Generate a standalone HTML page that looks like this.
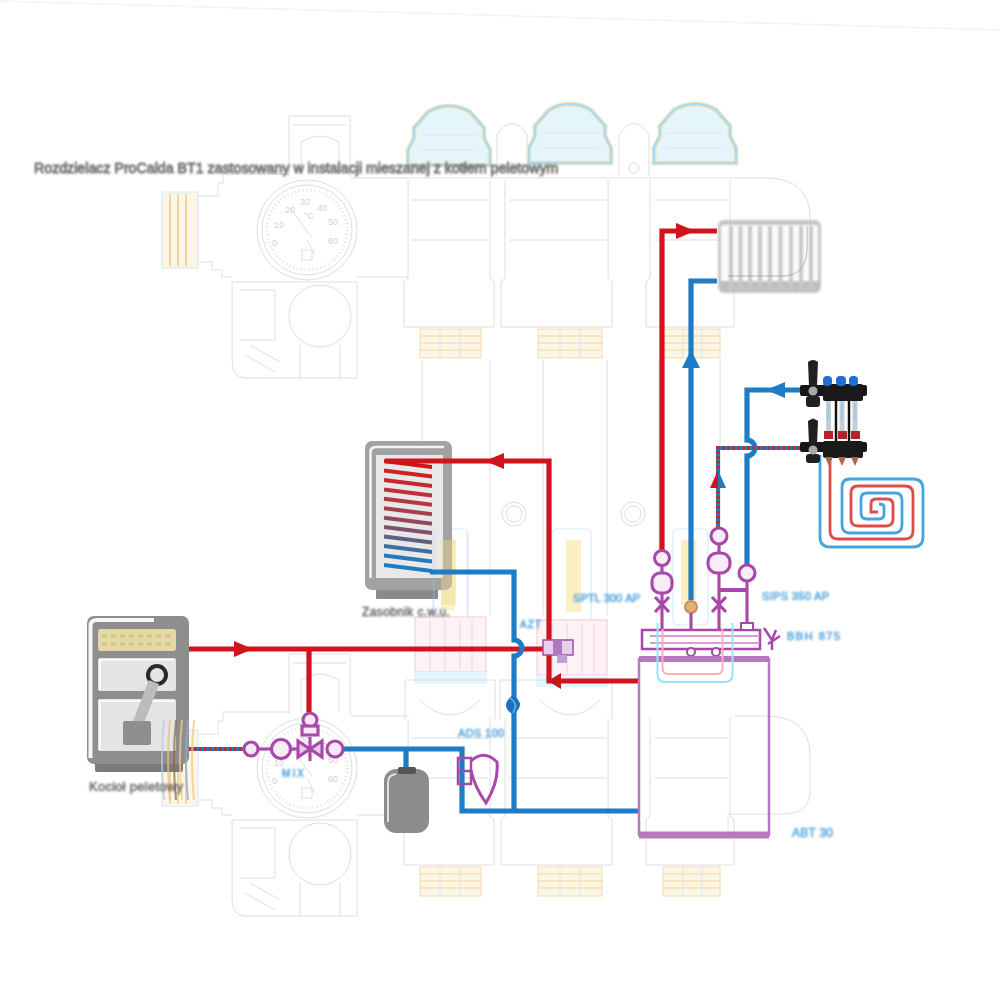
<!DOCTYPE html>
<html><head><meta charset="utf-8">
<style>
html,body{margin:0;padding:0;background:#fff;}
body{width:1000px;height:1000px;overflow:hidden;position:relative;}
svg{position:absolute;left:0;top:0;}
text{font-family:"Liberation Sans",sans-serif;}
</style></head><body>
<svg width="1000" height="1000" viewBox="0 0 1000 1000">
<defs>
<filter id="bl2" x="-10%" y="-10%" width="120%" height="120%"><feGaussianBlur stdDeviation="0.9"/></filter>
<filter id="bl" x="-5%" y="-50%" width="110%" height="200%"><feGaussianBlur stdDeviation="0.9"/></filter>
<g id="ghc">
 <g fill="none" stroke="#dedede" stroke-width="1">
  <path d="M289,116 H350 V176 M289,116 V176 M293,125 H346 M301,174 V142 Q320,130 339,142 V174"/>
  <path d="M198,196 H218 V183 H223 V174 H289 M350,178 H408 M198,262 H212 V270 H222 V277 H232 M357,277 H408"/>
  <circle cx="307" cy="230" r="50"/>
  <circle cx="307" cy="230" r="45"/>
  <path d="M290,208 L312,238 M307,240 L315,255"/>
  <rect x="302" y="250" width="10" height="10"/>
  <g stroke="none" fill="#d2d2d2" font-size="9" font-family="Liberation Sans, sans-serif">
   <text x="272" y="246">0</text><text x="274" y="228">10</text><text x="285" y="213">20</text><text x="300" y="205">30</text><text x="317" y="211">40</text><text x="328" y="225">50</text><text x="328" y="244">60</text><text x="304" y="219">°C</text>
  </g>
  <circle cx="307" cy="230" r="40" stroke-dasharray="1 3" stroke="#e2e2e2" stroke-width="3"/>
  <path d="M232,282 H357 V378 H245 Q232,378 232,360 Z"/>
  <circle cx="320" cy="316" r="31"/>
  <path d="M245,355 L275,372 M250,345 L280,362 M300,345 V378 M340,345 V378"/>
  <path d="M240,290 H275 V340 H240"/>
  <path d="M408,180 V278 L404,282 V327 H494 V282 L490,278 V180"/>
  <path d="M505,180 V278 L501,282 V327 H612 V282 L608,278 V180"/>
  <path d="M650,180 V278 L646,282 V327 H734 V282 L730,278 V180"/>
  <path d="M412,200 H488 M412,240 H488 M509,200 H606 M509,240 H606 M654,200 H728 M654,240 H728"/>
  <path d="M735,178 H770 Q808,180 810,215 V255 Q808,276 785,276 H728 V292"/>
 </g>
 <g fill="#fcf6e6" stroke="#f4dcae" stroke-width="1">
  <rect x="420" y="329" width="61" height="29"/>
  <rect x="538" y="329" width="64" height="29"/>
  <rect x="663" y="329" width="57" height="29"/>
  <path d="M420,336 H481 M420,343 H481 M420,350 H481 M538,336 H602 M538,343 H602 M538,350 H602 M663,336 H720 M663,343 H720 M663,350 H720" stroke="#f4d49a"/>
  <path d="M440,329 V358 M460,329 V358 M560,329 V358 M580,329 V358 M683,329 V358 M702,329 V358" stroke="#d4e6f6"/>
  <rect x="162" y="192" width="36" height="76" fill="#fcf6e6" stroke="#d6e8f8"/>
  <path d="M170,194 V266 M178,194 V266 M186,194 V266" stroke="#f4d49a" stroke-width="2"/>
 </g>
</g>
<g id="ghtop">
 <g fill="none" stroke="#dedede" stroke-width="1">
  <path d="M422,360 V528 M490,360 V615 M543,360 V615 M607,360 V615 M659,360 V615 M720,360 V528"/>
  <circle cx="514" cy="514" r="8"/><circle cx="633" cy="514" r="8"/>
  <circle cx="514" cy="514" r="12"/><circle cx="633" cy="514" r="12"/>
  <path d="M497,176 V135 Q512,112 527,135 V176 M619,176 V135 Q634,112 649,135 V176"/>
  <circle cx="512" cy="168" r="5"/><circle cx="634" cy="168" r="5"/>
  <path d="M400,178 H735" stroke="#e2e2e2"/>
 </g>
 <g fill="none" stroke="#d6ecf8" stroke-width="1.2">
  <rect x="433" y="529" width="35" height="96" rx="5"/>
  <rect x="552" y="529" width="39" height="96" rx="5"/>
  <rect x="673" y="529" width="35" height="96" rx="5"/>
 </g>
 <g fill="#fbf0c4" stroke="none">
  <rect x="441" y="540" width="15" height="65"/>
  <rect x="566" y="540" width="15" height="72"/>
  <rect x="681" y="540" width="15" height="65"/>
 </g>
 <g id="cap">
  <path d="M408,165 V150 L414,138 V128 L428,112 Q438,106 449,106 Q460,106 470,112 L484,128 V138 L490,150 V165 Z" fill="#e4f5fc" stroke="#f8e4c2" stroke-width="5"/>
  <path d="M408,165 V150 L414,138 V128 L428,112 Q438,106 449,106 Q460,106 470,112 L484,128 V138 L490,150 V165 Z" fill="none" stroke="#a4dcf6" stroke-width="2.4"/>
  <path d="M420,135 H478 M420,150 H478" stroke="#f6dde6" stroke-width="1" fill="none"/>
 </g>
 <use href="#cap" transform="translate(121,-2)"/>
 <use href="#cap" transform="translate(246,-2)"/>
</g>
<g id="ghbot">
 <g fill="#fdf2f6" stroke="#f6c6d2" stroke-width="1">
  <rect x="415" y="617" width="71" height="55"/>
  <rect x="537" y="620" width="70" height="55"/>
 </g>
 <g fill="#e4f6fc" stroke="none">
  <rect x="414" y="672" width="73" height="12"/>
  <rect x="536" y="675" width="72" height="12"/>
 </g>
 <g fill="none" stroke="#f6d0da" stroke-width="1">
  <path d="M430,620 V670 M445,620 V670 M460,620 V670 M472,620 V670 M552,623 V673 M567,623 V673 M582,623 V673 M594,623 V673"/>
 </g>
 <g fill="none" stroke="#dedede" stroke-width="1">
  <path d="M405,680 H495 V720 M405,680 V720 M500,680 H612 V720 M500,680 V720"/>
  <path d="M420,700 Q450,730 480,700 M540,700 Q570,730 600,700"/>
 </g>
</g>
</defs>

<use href="#ghc"/>
<use href="#ghtop"/>
<use href="#ghc" transform="translate(0,538)"/>
<use href="#ghbot"/>

<!-- title -->
<path d="M0,1 L1000,30" stroke="#f3f3f3" stroke-width="1.5"/>
<text x="34" y="173" font-size="14.2" fill="#6a6a6a" stroke="#6a6a6a" stroke-width="0.8" filter="url(#bl)">Rozdzielacz ProCalda BT1 zastosowany w instalacji mieszanej z kotłem peletowym</text>

<!-- PIPES -->
<g fill="none" stroke-linejoin="miter">
 <path d="M189,649 H543" stroke="#d0141c" stroke-width="5.2"/>
 <path d="M309,649 V712" stroke="#d0141c" stroke-width="5.2"/>
 <path d="M662,550 V231 H717" stroke="#d0141c" stroke-width="5.2"/>
 <path d="M717,281 H691 V600" stroke="#1e7cc4" stroke-width="5.2"/>
 <path d="M342,749 H462 V811 H638" stroke="#1e7cc4" stroke-width="5.2"/>
 <path d="M406,749 V770" stroke="#1e7cc4" stroke-width="5.2"/>
 <path d="M800,390 H747 V440 a8,8 0 0 1 0,16 V565" stroke="#1e7cc4" stroke-width="5.2"/>
 <path d="M800,448 H718 V542" stroke="#1e7cc4" stroke-width="4"/>
 <path d="M800,448 H718 V542" stroke="#c0282c" stroke-width="4" stroke-dasharray="2.5 2.5"/>
 <path d="M189,749 H244" stroke="#1e7cc4" stroke-width="4"/>
 <path d="M189,749 H244" stroke="#c0282c" stroke-width="4" stroke-dasharray="2.5 2.5"/>
 <!-- underfloor spiral -->
 <path d="M820,455 V537 Q820,547 830,547 H913 Q923,547 923,537 V489 Q923,479 913,479 H850 Q842,479 842,487 V525 Q842,533 850,533 H894 Q902,533 902,525 V500 Q902,493 895,493 H867 Q861,493 861,499 V513 Q861,519 867,519 H879 Q884,519 884,514 V507 Q884,504 879,504" stroke="#48a4dc" stroke-width="2.8"/>
 <path d="M830,455 V531 Q830,539 838,539 H905 Q913,539 913,531 V494 Q913,486 905,486 H858 Q851,486 851,493 V519 Q851,526 858,526 H886 Q893,526 893,519 V505 Q893,499 887,499 H876 Q871,499 871,504 V512 H878" stroke="#de4c4e" stroke-width="2.8"/>
</g>
<!-- arrows -->
<path d="M234,641 L253,649 L234,657z" fill="#d0141c"/>
<path d="M676,223 L695,231 L676,239z" fill="#d0141c"/>
<path d="M682,368 L691,350 L700,368z" fill="#1e7cc4"/>
<path d="M785,382 L766,390 L785,398z" fill="#1e7cc4"/>
<path d="M710,488 L718,470 L718,488z" fill="#d0141c"/>
<path d="M718,488 L718,470 L726,488z" fill="#1e7cc4"/>

<!-- BOILER -->
<g>
 <rect x="95" y="762" width="88" height="10" rx="2" fill="#7a7a7a"/>
 <rect x="87" y="616" width="102" height="148" rx="7" fill="#8e8e8e"/>
 <path d="M90.5,758 V626 Q90.5,620 97,620 H154" stroke="#f6f6f6" stroke-width="4" fill="none"/>
 <rect x="98" y="629" width="78" height="22" rx="3" fill="#e4d9a4"/>
 <path d="M102,636 H172 M102,644 H172" stroke="#d2c488" stroke-width="3" stroke-dasharray="5 4"/>
 <rect x="98" y="658" width="78" height="33" rx="2" fill="#e4e4e4"/>
 <rect x="98" y="699" width="78" height="52" rx="2" fill="#e4e4e4"/>
 <path d="M100,690 V660 H174" stroke="#f8f8f8" stroke-width="2" fill="none"/>
 <path d="M100,750 V701 H174" stroke="#f8f8f8" stroke-width="2" fill="none"/>
 <circle cx="157" cy="675" r="9" fill="none" stroke="#2a2a2a" stroke-width="4"/>
 <path d="M154,682 L137,726" stroke="#bcbcbc" stroke-width="11"/>
 <rect x="123" y="721" width="28" height="24" rx="2" fill="#8e8e8e"/>
 <g fill="none" stroke-width="2" opacity=".75">
  <path d="M164,720 Q160,760 164,800" stroke="#b8c8ec"/>
  <path d="M170,720 Q166,760 170,800" stroke="#e8c080"/>
  <path d="M176,720 Q172,760 176,800" stroke="#8a6a48"/>
  <path d="M182,720 Q178,760 182,800" stroke="#f0d090"/>
  <path d="M188,720 Q184,760 188,800" stroke="#90a8d8"/>
  <path d="M194,720 Q190,760 194,800" stroke="#f0c880"/>
 </g>
 <text x="89" y="791" font-size="13" fill="#666" stroke="#666" stroke-width="0.5" filter="url(#bl)" textLength="94">Kocioł peletowy</text>
</g>

<!-- TANK -->
<g>
 <rect x="376" y="586" width="62" height="13" rx="1" fill="#8a8a8a"/>
 <rect x="365" y="441" width="87" height="149" rx="7" fill="#a2a2a2"/>
 <path d="M370.5,578 V452 Q370.5,447 376,447 H444" stroke="#f4f4f4" stroke-width="2.5" fill="none"/>
 <rect x="376" y="455" width="67" height="123" fill="#e8e8e8"/>
 <g stroke-width="4" fill="none"><path d="M384,461.0 L432,467.0" stroke="#d0141c"/><path d="M384,470.4 L432,476.4" stroke="#cf2024"/><path d="M384,479.9 L432,485.9" stroke="#c7282e"/><path d="M384,489.4 L432,495.4" stroke="#bd3038"/><path d="M384,498.8 L432,504.8" stroke="#b23844"/><path d="M384,508.2 L432,514.2" stroke="#a44050"/><path d="M384,517.7 L432,523.7" stroke="#94485e"/><path d="M384,527.1 L432,533.1" stroke="#7e526e"/><path d="M384,536.6 L432,542.6" stroke="#5e6282"/><path d="M384,546.0 L432,552.0" stroke="#3c709e"/><path d="M384,555.5 L432,561.5" stroke="#2878b6"/><path d="M384,565.0 L432,571.0" stroke="#1e7cc4"/></g>
 <text x="362" y="616" font-size="12" fill="#666" stroke="#666" stroke-width="0.5" filter="url(#bl)" textLength="88">Zasobnik c.w.u.</text>
</g>

<g opacity=".4">
 <rect x="441" y="540" width="14" height="70" fill="#f4dc8c"/>
 <path d="M434,532 V615 M467,532 V615" stroke="#b8c8f0" stroke-width="1.2" fill="none"/>
</g>
<g fill="none">
 <path d="M385,461 H549 V681 H638" stroke="#d0141c" stroke-width="5.2"/>
 <path d="M430,572 H514 V640 a8,8 0 0 1 0,16 V811" stroke="#1e7cc4" stroke-width="5.2"/>
</g>
<path d="M504,453 L485,461 L504,469z" fill="#d0141c"/>
<path d="M561,673 L548,681 L561,689z" fill="#c01818"/>

<!-- RADIATOR -->
<g filter="url(#bl2)">
 <rect x="718" y="220" width="103" height="73" rx="6" fill="#c4c4c4"/>
 <rect x="721" y="225" width="97" height="56" rx="2" fill="#fafafa"/>
 <rect x="721" y="281" width="97" height="9" fill="#bdbdbd"/>
 <g stroke="#c6c6c6" stroke-width="4">
  <path d="M731,226 V290 M740.5,226 V290 M750,226 V290 M760,226 V290 M770,226 V290 M780.5,226 V290 M791,226 V290 M801,226 V290 M811,226 V290"/>
 </g>
</g>
<path d="M728,276 H785 Q806,274 807,250 V226" fill="none" stroke="#9a9a9a" stroke-width="1" opacity=".7"/>
<!-- EXPANSION TANK -->
<rect x="384" y="769" width="45" height="64" rx="12" fill="#8c8c8c"/>
<path d="M388,822 V782 Q388,775 396,774" stroke="#e0e0e0" stroke-width="2" fill="none"/>
<rect x="398" y="767" width="18" height="7" rx="2" fill="#555"/>

<!-- UNDERFLOOR MANIFOLD -->
<g>
 <path d="M813,418 V432" stroke="#aac4dc" stroke-width="3"/>
 <rect x="800" y="385" width="67" height="11" rx="2" fill="#161616"/>
 <rect x="823" y="384" width="40" height="17" rx="2" fill="#1a1a1a"/>
 <rect x="823" y="376" width="9" height="10" rx="4" fill="#1f6fd0"/>
 <rect x="836" y="376" width="10" height="10" rx="4" fill="#1f6fd0"/>
 <rect x="849" y="376" width="9" height="10" rx="4" fill="#1f6fd0"/>
 <path d="M808,362 Q813,358 818,362 L817,386 H809 Z" fill="#202020"/>
 <rect x="806" y="396" width="14" height="11" rx="3" fill="#202020"/>
 <circle cx="813" cy="391" r="4.5" fill="#a8a8a8"/>
 <path d="M836,400 V443 M849,400 V443" stroke="#111" stroke-width="2.5"/>
 <path d="M828.5,401 V432 M842,401 V432 M855,401 V432" stroke="#c4ccd4" stroke-width="5"/>
 <path d="M828.5,404 V420 M842,404 V420 M855,404 V420" stroke="#9ccbec" stroke-width="2"/>
 <rect x="824" y="431" width="9" height="8" fill="#b8202a"/>
 <rect x="838" y="431" width="9" height="8" fill="#b8202a"/>
 <rect x="851" y="431" width="9" height="8" fill="#b8202a"/>
 <rect x="800" y="442" width="67" height="10" rx="2" fill="#161616"/>
 <rect x="823" y="441" width="40" height="17" rx="2" fill="#1a1a1a"/>
 <path d="M808,421 Q813,417 818,421 L817,444 H809 Z" fill="#202020"/>
 <rect x="806" y="454" width="14" height="9" rx="3" fill="#202020"/>
 <circle cx="813" cy="450" r="4.5" fill="#a8a8a8"/>
 <path d="M825,457 L829,466 L833,457 Z M838,457 L842,466 L846,457 Z M851,457 L855,466 L859,457 Z" fill="#a86848"/>
</g>
<!-- PURPLE SYMBOLS -->
<g fill="none" stroke="#a848a8" stroke-width="3.1">
 <!-- boiler loop -->
 <circle cx="310" cy="720" r="7" fill="#f6e8f6"/>
 <rect x="302" y="726" width="16" height="9" fill="#f6e8f6"/>
 <circle cx="251" cy="749" r="7" fill="#f6e8f6"/>
 <path d="M258,749 H271"/>
 <circle cx="281" cy="749" r="9.5" fill="#f8ecf8"/>
 <path d="M291,749 H298"/>
 <path d="M298,741 L310,749 L298,757z M322,741 L310,749 L322,757z M310,737 V761" fill="#e8c8e8"/>
 <circle cx="335" cy="749" r="8" fill="#f6e8f6"/>
 <!-- dirt separator -->
 <path d="M458,758 H471 V784 H458 Z M458,771 H471" stroke-width="2.5"/>
 <path d="M471,761 Q484,749 497,762 Q499,782 486,803 Q474,786 471,770" stroke-width="3"/>
 <!-- AZT -->
 <rect x="543" y="640" width="30" height="15" fill="#e8d0ec" stroke-width="1.5"/>
 <rect x="553" y="640" width="9" height="15" fill="#b078c0" stroke="none"/>
 <rect x="557" y="655" width="10" height="8" fill="#c0a0d0" stroke="none"/>
 <!-- right column symbols -->
 <circle cx="662" cy="558" r="7.5" fill="#f8ecf8"/>
 <rect x="652" y="573" width="20" height="20" rx="8" fill="#f8ecf8"/>
 <path d="M655,597 L669,612 M669,597 L655,612"/>
 <path d="M662,566 V573 M662,593 V630"/>
 <circle cx="691" cy="607" r="6" fill="#e6b070" stroke="#c09060" stroke-width="2"/>
 <path d="M691,613 V630"/>
 <circle cx="719" cy="536" r="8" fill="#f8ecf8"/>
 <rect x="708" y="553" width="22" height="20" rx="9" fill="#f8ecf8"/>
 <path d="M719,544 V553 M719,573 V630 M712,597 L726,612 M726,597 L712,612"/>
 <circle cx="747" cy="573" r="8" fill="#f8ecf8"/>
 <path d="M747,581 V624"/>
 <path d="M719,590 H747" stroke-width="4"/>
 <!-- manifold bar -->
 <rect x="642" y="630" width="118" height="19" stroke-width="2.5"/>
 <path d="M650,636 H760 M650,643 H760" stroke-width="1.5" stroke="#d080c0"/>
 <rect x="741" y="623" width="12" height="7" fill="#fff" stroke-width="2"/>
 <path d="M764,628 L772,640 L776,630 M768,644 L780,636 M772,640 V650" stroke-width="2.5"/>
 <circle cx="691" cy="652" r="4" fill="#fff" stroke-width="2"/>
 <circle cx="716" cy="652" r="4" fill="#fff" stroke-width="2"/>
 <!-- big rect -->
 <rect x="639" y="659" width="130" height="176" stroke="#b878c0" stroke-width="2.5"/>
 <path d="M639,659 H769" stroke="#b878c0" stroke-width="6"/>
 <path d="M639,835 H769" stroke="#b878c0" stroke-width="7"/>
</g>
<g fill="none" stroke-width="1.5">
 <path d="M657.5,623 V674 Q657.5,682 665,682 H725 Q732.5,682 732.5,674 V623" stroke="#98e4f4" stroke-width="2"/>
 <path d="M662.5,629 V668 Q662.5,674 668,674 H717 Q722.5,674 722.5,668 V629" stroke="#f6b0c0" stroke-width="2"/>
</g>
<!-- blue vent -->
<path d="M513,695 Q520,700 520,705 Q519,711 513,714 Q506,711 506,705 Q506,700 513,695Z" fill="#1e70c0"/>
<path d="M510,698 Q517,703 515,708 Q514,711 513,713" fill="none" stroke="#5ac0f0" stroke-width="1.5"/>

<!-- labels -->
<g font-size="11" fill="#5aa8e0" stroke="#5aa8e0" stroke-width="0.6" filter="url(#bl)">
 <text x="282" y="777" font-size="10" textLength="22">MIX</text>
 <text x="458" y="737" textLength="46">ADS 100</text>
 <text x="520" y="628" font-size="10" textLength="21">AZT</text>
 <text x="573" y="601.5" textLength="67">SPTL 300 AP</text>
 <text x="762" y="600" textLength="67">SIPS 350 AP</text>
 <text x="787" y="640" textLength="53">BBH 875</text>
 <text x="792" y="837" font-size="12" textLength="41">ABT 30</text>
</g>
</svg>
<script>
// nothing
</script>
</body></html>
